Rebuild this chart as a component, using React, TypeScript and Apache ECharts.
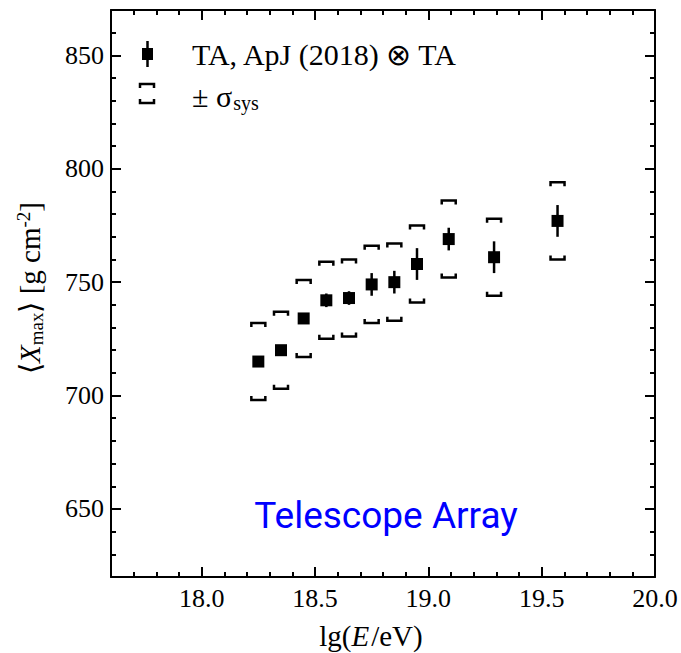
import React, { useEffect, useRef } from "react";
import * as echarts from "echarts";

// Mean depth of shower maximum per energy bin
const energy = [18.25, 18.35, 18.45, 18.55, 18.65, 18.75, 18.85, 18.95, 19.09, 19.29, 19.57];
const xmaxMean = [715, 720, 734, 742, 743, 749, 750, 758, 769, 761, 777];
const statErr = [2, 2, 2, 3, 3, 5, 5, 7, 5, 7, 7];
const sysErr = [17, 17, 17, 17, 17, 17, 17, 17, 17, 17, 17];

// Axis ticks
const xMajorTicks = [18.0, 18.5, 19.0, 19.5, 20.0];
const xMinorTicks = [17.7, 17.8, 17.9, 18.1, 18.2, 18.3, 18.4, 18.6, 18.7, 18.8, 18.9, 19.1, 19.2, 19.3, 19.4, 19.6, 19.7, 19.8, 19.9];
const yMajorTicks = [650, 700, 750, 800, 850];
const yMinorTicks = [630, 640, 660, 670, 680, 690, 710, 720, 730, 740, 760, 770, 780, 790, 810, 820, 830, 840, 860];

const X_MIN = 17.6;
const X_MAX = 20.0;
const Y_MIN = 620;
const Y_MAX = 870;

const SERIF = "Liberation Serif";
const TICK_FONT = 26;

function makeXAxis(position: "bottom" | "top", ticks: number[], len: number, showLabel: boolean, showLine: boolean) {
  return {
    type: "value",
    position,
    min: X_MIN,
    max: X_MAX,
    axisLine: { show: showLine, onZero: false, lineStyle: { color: "#000", width: 2 } },
    axisTick: { show: true, inside: true, length: len, customValues: ticks, lineStyle: { color: "#000", width: 2 } },
    axisLabel: {
      show: showLabel,
      customValues: ticks,
      margin: 8,
      color: "#000",
      fontFamily: SERIF,
      fontSize: TICK_FONT,
      formatter: (v: number) => v.toFixed(1),
    },
    splitLine: { show: false },
  };
}

function makeYAxis(position: "left" | "right", ticks: number[], len: number, showLabel: boolean, showLine: boolean) {
  return {
    type: "value",
    position,
    min: Y_MIN,
    max: Y_MAX,
    axisLine: { show: showLine, onZero: false, lineStyle: { color: "#000", width: 2 } },
    axisTick: { show: true, inside: true, length: len, customValues: ticks, lineStyle: { color: "#000", width: 2 } },
    axisLabel: {
      show: showLabel,
      customValues: ticks,
      margin: 7,
      color: "#000",
      fontFamily: SERIF,
      fontSize: TICK_FONT,
      formatter: (v: number) => String(v),
    },
    splitLine: { show: false },
  };
}

export default function App() {
  const ref = useRef<HTMLDivElement>(null);

  useEffect(() => {
    if (!ref.current) return;
    const chart = echarts.init(ref.current, null, { renderer: "svg" });

    const points = energy.map((e, i) => [e, xmaxMean[i]]);
    const statData = energy.map((e, i) => [e, xmaxMean[i], statErr[i]]);
    const sysData = energy.map((e, i) => [e, xmaxMean[i], sysErr[i]]);

    const option = {
      animation: false,
      backgroundColor: "#fff",
      textStyle: { fontFamily: SERIF },
      grid: { left: 111, right: 26, top: 10, bottom: 76, containLabel: false },
      xAxis: [
        makeXAxis("bottom", xMajorTicks, 10, true, true),
        makeXAxis("bottom", xMinorTicks, 5, false, false),
        makeXAxis("top", xMajorTicks, 10, false, true),
        makeXAxis("top", xMinorTicks, 5, false, false),
      ],
      yAxis: [
        makeYAxis("left", yMajorTicks, 10, true, true),
        makeYAxis("left", yMinorTicks, 5, false, false),
        makeYAxis("right", yMajorTicks, 10, false, true),
        makeYAxis("right", yMinorTicks, 5, false, false),
      ],
      series: [
        {
          // systematic uncertainty brackets
          type: "custom",
          xAxisIndex: 0,
          yAxisIndex: 0,
          data: sysData,
          renderItem: (_params: any, api: any) => {
            const x = api.value(0);
            const y = api.value(1);
            const s = api.value(2);
            const up = api.coord([x, y + s]);
            const lo = api.coord([x, y - s]);
            const hw = 7;
            const h = 4;
            const style = { stroke: "#000", lineWidth: 2.5, fill: "none" };
            return {
              type: "group",
              children: [
                {
                  type: "polyline",
                  shape: { points: [[up[0] - hw, up[1] + h], [up[0] - hw, up[1]], [up[0] + hw, up[1]], [up[0] + hw, up[1] + h]] },
                  style,
                },
                {
                  type: "polyline",
                  shape: { points: [[lo[0] - hw, lo[1] - h], [lo[0] - hw, lo[1]], [lo[0] + hw, lo[1]], [lo[0] + hw, lo[1] - h]] },
                  style,
                },
              ],
            };
          },
          z: 2,
        },
        {
          // statistical error bars
          type: "custom",
          xAxisIndex: 0,
          yAxisIndex: 0,
          data: statData,
          renderItem: (_params: any, api: any) => {
            const x = api.value(0);
            const y = api.value(1);
            const e = api.value(2);
            const top = api.coord([x, y + e]);
            const bot = api.coord([x, y - e]);
            return {
              type: "line",
              shape: { x1: top[0], y1: top[1], x2: bot[0], y2: bot[1] },
              style: { stroke: "#000", lineWidth: 2.5 },
            };
          },
          z: 3,
        },
        {
          type: "scatter",
          xAxisIndex: 0,
          yAxisIndex: 0,
          data: points,
          symbol: "rect",
          symbolSize: 12,
          itemStyle: { color: "#000", opacity: 1 },
          z: 4,
        },
      ],
      graphic: [
        // legend: data marker
        { type: "line", shape: { x1: 147.5, y1: 41, x2: 147.5, y2: 67 }, style: { stroke: "#000", lineWidth: 2.5 } },
        { type: "rect", shape: { x: 142, y: 48, width: 11, height: 12 }, style: { fill: "#000" } },
        {
          type: "text",
          x: 192,
          y: 54,
          style: { text: "TA, ApJ (2018) ⊗ TA", font: `30px ${SERIF}`, fill: "#000", align: "left", verticalAlign: "middle" },
        },
        // legend: systematic bracket
        {
          type: "polyline",
          shape: { points: [[140, 88], [140, 84], [154, 84], [154, 88]] },
          style: { stroke: "#000", lineWidth: 2.5, fill: "none" },
        },
        {
          type: "polyline",
          shape: { points: [[140, 99], [140, 103], [154, 103], [154, 99]] },
          style: { stroke: "#000", lineWidth: 2.5, fill: "none" },
        },
        {
          type: "text",
          x: 192,
          y: 96,
          style: {
            text: "{a|± σ}{s|sys}",
            align: "left",
            verticalAlign: "middle",
            rich: {
              a: { fontFamily: SERIF, fontSize: 30, color: "#000" },
              s: { fontFamily: SERIF, fontSize: 20, color: "#000", padding: [13, 0, 0, 1] },
            },
          },
        },
        // annotation
        {
          type: "text",
          x: 386,
          y: 515,
          style: {
            text: "Telescope Array",
            font: "37px Roboto",
            fill: "#0000ff",
            align: "center",
            verticalAlign: "middle",
          },
        },
        // x-axis title
        {
          type: "text",
          x: 371,
          y: 636,
          style: {
            text: "{a|lg(}{i|E}{a|/eV)}",
            align: "center",
            verticalAlign: "middle",
            rich: {
              a: { fontFamily: SERIF, fontSize: 29, color: "#000" },
              i: { fontFamily: SERIF, fontSize: 29, fontStyle: "italic", color: "#000", padding: [0, 2, 0, 0] },
            },
          },
        },
        // y-axis title
        {
          type: "text",
          x: 30,
          y: 288,
          rotation: Math.PI / 2,
          style: {
            text: "{a|⟨}{i|X}{s|max}{a|⟩ [g cm}{p|-2}{a|]}",
            align: "center",
            verticalAlign: "middle",
            rich: {
              a: { fontFamily: SERIF, fontSize: 29, color: "#000" },
              i: { fontFamily: SERIF, fontSize: 29, fontStyle: "italic", color: "#000" },
              s: { fontFamily: SERIF, fontSize: 19, color: "#000", padding: [12, 0, 0, 0] },
              p: { fontFamily: SERIF, fontSize: 19, color: "#000", padding: [0, 0, 14, 0] },
            },
          },
        },
      ],
    };

    chart.setOption(option as any);
    return () => chart.dispose();
  }, []);

  return (
    <div
      ref={ref}
      style={{ position: "fixed", left: 0, top: 0, width: 681, height: 653, background: "#fff" }}
    />
  );
}
